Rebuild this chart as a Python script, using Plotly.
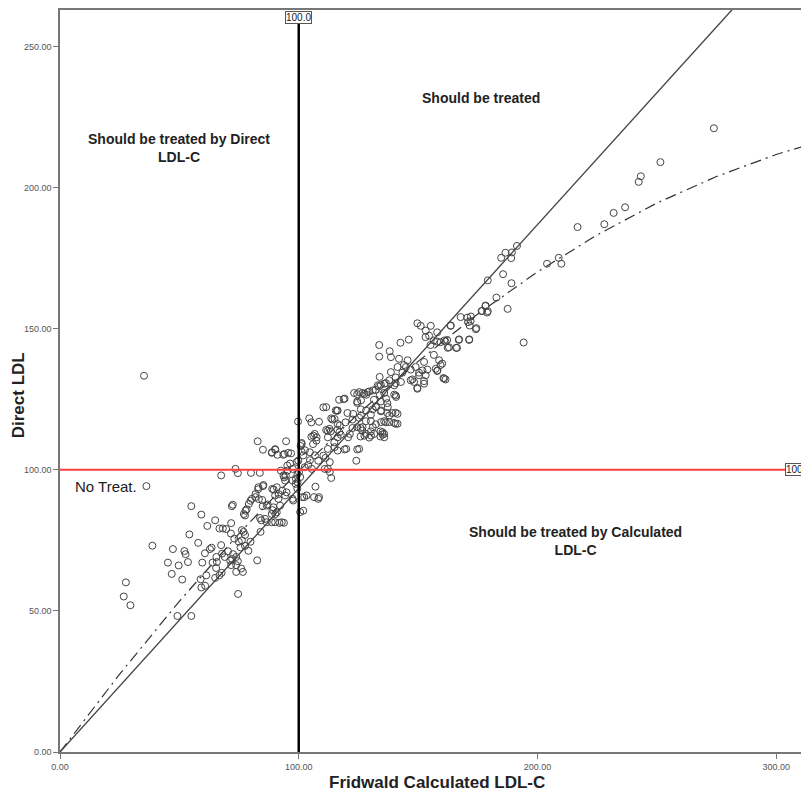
import plotly.graph_objects as go

# scatter data: (Fridwald calculated LDL-C, direct LDL)
points = [
    (35.2, 133.3), (36.2, 94.2), (38.7, 73.1), (27.6, 60.1), (26.7, 55.1), (29.5, 52.0), (49.2, 48.2), (55.0, 48.2),
    (74.6, 56.0), (55.0, 87.1), (59.2, 84.1), (61.7, 80.1), (65.0, 82.1), (54.2, 77.1), (47.3, 71.9), (52.1, 71.2),
    (52.6, 70.1), (45.2, 67.1), (49.7, 66.1), (46.8, 63.1), (51.2, 61.1), (59.6, 67.1), (62.8, 71.9), (63.9, 67.1),
    (58.9, 61.2), (59.2, 58.3), (60.8, 58.9), (65.4, 65.2), (66.8, 62.6), (67.5, 73.3), (67.9, 70.3), (66.8, 79.2),
    (68.2, 79.2), (69.6, 79.0), (71.7, 81.1), (72.0, 87.1), (67.5, 98.0), (73.5, 100.3), (74.5, 98.8), (80.0, 98.9),
    (83.7, 98.9), (82.8, 110.1), (85.0, 107.1), (88.7, 106.0), (90.1, 107.3), (91.1, 105.3), (94.7, 110.1),
    (95.6, 106.0), (93.5, 105.3), (99.7, 117.1), (100.8, 108.4),
    (85.0, 94.2), (83.0, 93.1), (81.9, 91.4), (79.8, 89.0), (83.3, 89.6), (84.7, 89.3), (89.5, 93.0), (91.6, 91.4),
    (94.3, 90.9), (78.2, 86.0), (77.5, 83.8), (84.3, 82.1), (89.0, 85.7), (90.2, 84.3), (91.9, 81.2), (93.8, 81.2),
    (91.5, 89.7), (84.9, 87.1), (87.0, 87.7), (76.9, 78.0), (76.2, 78.6), (76.2, 75.0), (77.5, 76.9), (74.9, 74.5),
    (73.0, 75.6), (71.6, 77.4), (75.6, 72.5), (77.5, 73.0), (78.9, 71.3), (79.8, 74.5), (84.0, 78.0), (72.5, 70.1),
    (71.3, 67.8), (65.7, 67.3), (67.7, 63.5), (72.1, 68.4), (65.0, 61.7),
    (97.5, 100.3), (99.5, 98.5), (98.8, 96.8), (99.5, 95.6), (100.6, 97.4), (102.3, 90.3), (100.6, 85.0),
    (95.2, 101.5), (94.6, 97.9), (92.5, 99.7),
    (57.9, 74.1), (60.7, 70.4), (63.5, 72.4), (65.5, 69.1), (69.0, 69.1), (70.4, 71.1), (73.8, 69.1), (74.5, 67.6),
    (73.8, 66.2), (71.7, 66.2), (75.9, 65.0), (73.8, 63.8), (76.6, 63.8), (82.6, 67.9), (61.3, 62.6), (53.6, 67.3),
    (79.1, 87.9), (77.7, 85.5), (72.4, 87.6), (77.0, 84.3), (86.6, 87.3), (89.4, 86.7), (92.2, 87.3), (83.8, 82.9),
    (85.9, 82.6), (88.7, 84.3), (90.8, 84.9), (90.1, 81.4), (92.9, 81.4), (88.7, 81.4), (86.6, 81.4), (80.4, 89.7),
    (81.8, 90.3), (83.1, 93.8), (85.2, 94.6), (90.8, 93.8), (90.1, 90.9), (94.9, 92.0), (97.7, 89.1), (101.9, 85.5),
    (103.3, 90.9), (108.2, 89.7), (93.6, 98.0), (94.3, 96.2), (96.4, 102.2), (99.2, 102.8), (101.9, 105.1),
    (101.2, 109.5), (102.6, 106.9), (104.7, 103.4), (104.0, 101.7), (106.8, 105.1), (106.1, 112.1), (107.5, 111.5),
    (88.8, 106.2), (90.2, 107.1), (94.0, 105.6), (96.8, 105.8),
    (104.4, 118.2), (105.3, 116.8), (108.5, 117.0), (110.3, 122.1), (113.6, 118.2), (116.0, 120.9), (118.8, 125.0),
    (124.5, 126.8), (124.5, 123.7), (128.3, 126.6), (132.2, 128.3), (133.6, 129.5), (140.6, 126.3), (140.6, 120.2),
    (140.6, 116.3), (136.5, 116.8), (135.1, 113.3), (135.1, 112.5), (131.6, 112.7), (128.1, 112.7), (126.7, 115.1),
    (126.0, 121.4), (131.0, 121.4), (119.6, 116.8), (116.3, 116.2), (117.0, 113.3), (111.5, 114.1), (112.2, 113.8),
    (106.7, 112.7), (105.3, 111.7), (107.4, 110.3), (106.0, 109.1), (101.2, 109.1), (101.2, 106.4), (99.8, 103.2),
    (104.7, 106.2), (108.2, 103.2), (110.3, 105.0), (111.2, 104.2), (113.0, 102.7), (112.2, 100.3), (110.9, 100.3),
    (113.0, 99.2), (113.6, 97.1), (119.2, 107.2), (116.3, 106.8), (124.5, 107.2), (124.1, 103.2), (114.9, 109.7),
    (105.5, 100.3), (102.5, 100.9), (100.1, 99.2), (95.3, 99.7), (93.9, 97.3), (97.3, 96.2), (98.7, 95.0),
    (99.4, 93.3), (101.5, 90.3), (106.4, 90.3), (108.5, 90.3), (107.0, 94.0), (97.4, 89.7), (93.1, 92.6), (88.9, 93.2),
    (133.7, 144.2), (133.7, 140.1), (138.1, 142.0), (142.6, 145.0), (146.1, 146.1), (149.7, 151.9), (151.1, 151.0),
    (155.3, 151.0), (153.2, 149.3), (154.6, 147.5), (158.0, 148.7), (156.6, 145.8), (159.4, 145.2), (162.2, 146.0),
    (163.6, 151.0), (167.0, 146.0), (170.6, 153.9), (172.0, 152.7), (174.2, 149.8), (171.4, 146.0), (166.3, 143.2),
    (162.9, 143.4), (178.2, 158.0), (178.9, 155.7), (176.8, 156.3), (138.6, 139.9), (142.0, 139.3), (145.6, 138.8),
    (144.9, 136.4), (149.0, 136.4), (152.5, 138.2), (158.8, 138.8), (160.1, 137.6), (157.4, 135.8), (158.1, 135.2),
    (160.9, 132.3), (151.8, 135.2), (153.2, 133.5), (150.4, 133.5), (146.9, 131.7), (148.3, 131.1), (149.7, 128.7),
    (152.5, 130.5), (138.6, 134.6), (141.4, 136.4), (137.9, 131.7), (140.0, 129.9), (142.8, 131.1), (133.9, 132.9),
    (135.9, 130.5), (133.1, 129.9), (131.0, 128.1), (128.9, 127.5), (127.5, 126.9), (133.9, 126.4), (136.6, 125.2),
    (140.8, 125.8), (125.3, 127.5), (126.1, 124.6), (119.2, 125.2), (111.5, 122.2), (116.3, 121.0), (115.0, 118.0),
    (112.9, 114.5), (112.2, 111.5), (117.2, 115.7), (122.8, 119.8), (126.1, 119.2), (128.2, 121.0), (132.4, 122.2),
    (134.5, 121.0), (137.3, 122.2), (141.4, 119.8), (137.9, 119.2), (141.4, 116.3), (137.9, 116.9), (134.5, 116.9),
    (131.0, 115.1), (127.5, 112.1), (130.3, 112.1), (135.8, 112.7), (135.8, 111.5), (124.5, 115.1), (121.4, 112.7),
    (120.7, 111.5), (116.3, 111.5), (115.0, 108.0), (112.2, 107.4), (119.9, 107.4), (125.3, 107.4), (126.6, 113.9),
    (140.6, 132.7), (144.1, 137.1), (143.4, 134.4), (146.9, 135.5), (147.6, 132.0), (150.4, 134.4), (152.5, 131.4),
    (149.7, 129.0), (153.9, 135.5), (158.0, 135.0), (161.5, 132.0), (159.4, 137.1), (156.6, 140.7), (155.2, 144.2),
    (158.0, 145.4), (161.5, 145.4), (153.1, 147.0), (134.4, 130.1), (136.5, 130.7), (140.6, 130.7), (140.0, 126.6),
    (135.8, 127.2), (129.5, 127.7), (126.7, 127.2), (123.2, 127.2), (116.9, 124.8), (124.5, 124.2), (131.5, 124.8),
    (134.4, 124.2), (132.3, 122.4), (137.1, 123.6), (137.1, 120.1), (139.2, 120.1), (134.4, 120.7), (130.2, 119.5),
    (115.5, 121.0), (114.1, 117.8), (120.4, 120.1), (122.5, 117.8), (125.3, 118.4), (128.1, 117.2), (130.2, 117.2),
    (132.3, 116.1), (135.8, 117.2), (139.9, 116.6), (134.2, 113.6), (130.2, 113.6), (125.9, 114.8), (122.5, 114.8),
    (116.2, 114.2), (117.6, 112.4), (113.4, 113.6), (125.9, 111.8), (129.5, 111.4), (134.2, 111.8),
    (191.4, 179.3), (186.6, 176.9), (184.8, 175.1), (185.6, 169.3), (179.2, 167.1), (189.1, 166.1), (182.8, 161.0),
    (187.5, 157.0), (178.3, 158.2), (179.2, 156.2), (176.6, 156.2), (172.1, 154.3), (167.8, 154.1), (170.9, 152.3),
    (171.6, 151.1), (174.4, 150.2), (163.7, 151.1), (167.2, 146.2), (171.4, 146.2), (162.4, 143.2), (165.9, 143.2),
    (161.0, 145.8), (194.2, 145.1), (204.0, 173.0), (208.9, 175.1), (210.0, 173.0), (160.6, 132.5),
    (273.9, 221.0), (251.5, 209.0), (243.3, 204.0), (242.4, 202.0), (236.7, 193.0), (231.9, 191.0), (228.0, 187.0),
    (216.8, 186.0), (189.3, 177.0), (189.0, 175.0),
]
calc_ldl = [p[0] for p in points]
direct_ldl = [p[1] for p in points]

# fitted lines
fit_x = [0, 25, 50, 75, 100, 125, 150, 175, 200, 225, 250, 275, 300, 313]
fit_y = [0, 27.6, 53.4, 77.4, 99.5, 119.9, 138.4, 155.2, 170.1, 183.2, 194.5, 203.9, 211.7, 215.0]
lin_x = [0, 281.5]
lin_y = [0, 263.0]

cutoff = 100

fig = go.Figure()
fig.add_trace(go.Scatter(x=fit_x, y=fit_y, mode='lines',
                         line=dict(color='#333333', width=1.2, dash='11px,5px,2px,5px')))
fig.add_trace(go.Scatter(x=lin_x, y=lin_y, mode='lines', line=dict(color='#444444', width=1.3)))
fig.add_trace(go.Scatter(x=calc_ldl, y=direct_ldl, mode='markers',
                         marker=dict(symbol='circle-open', size=7, color='#444444', line=dict(width=1))))

# cut-off reference lines
fig.add_shape(type='line', x0=cutoff, x1=cutoff, y0=0, y1=259, line=dict(color='black', width=2.5))
fig.add_shape(type='line', x0=0, x1=304, y0=cutoff, y1=cutoff, line=dict(color='#ff4040', width=2))

box_font = dict(family='Liberation Sans, Arial', size=10, color='#222222')
fig.add_annotation(x=cutoff, y=260.4, text='100.0', showarrow=False, font=box_font,
                   bgcolor='white', bordercolor='#555555', borderwidth=1, borderpad=0)
fig.add_annotation(x=303.7, y=cutoff, text='100.', showarrow=False, xanchor='left', font=box_font,
                   bgcolor='white', bordercolor='#555555', borderwidth=1, borderpad=0)

label_font = dict(family='Liberation Sans, Arial', size=14, color='#222222')
fig.add_annotation(x=49.9, y=214, text='<b>Should be treated by Direct<br>LDL-C</b>', showarrow=False, font=label_font)
fig.add_annotation(x=176.2, y=231.7, text='<b>Should be treated</b>', showarrow=False, font=label_font)
fig.add_annotation(x=5.4, y=94.2, text='No Treat.', showarrow=False, xanchor='left',
                   font=dict(family='Liberation Sans, Arial', size=15, color='#222222'))
fig.add_annotation(x=216, y=74.7, text='<b>Should be treated by Calculated<br>LDL-C</b>', showarrow=False, font=label_font)

# axis titles
title_font = dict(family='Liberation Sans, Arial', size=17, color='#222222')
fig.add_annotation(xref='paper', yref='paper', x=0.505, y=-0.0417, yanchor='middle',
                   text='<b>Fridwald Calculated LDL-C</b>', showarrow=False, font=title_font)
fig.add_annotation(xref='paper', yref='paper', x=-0.056, y=0.481, xanchor='center', textangle=-90,
                   text='<b>Direct LDL</b>', showarrow=False, font=title_font)

tick_font = dict(family='Liberation Sans, Arial', size=9, color='#555555')
fig.update_xaxes(range=[0, 312.9], tickvals=[0, 100, 200, 300], tickformat='.2f', tickfont=tick_font,
                 showgrid=False, zeroline=False, showline=True, linecolor='#777777', linewidth=1.5,
                 mirror=True, ticks='outside', ticklen=5, tickcolor='#777777')
fig.update_yaxes(range=[0, 262.9], tickvals=[0, 50, 100, 150, 200, 250], tickformat='.2f', tickfont=tick_font,
                 showgrid=False, zeroline=False, showline=True, linecolor='#777777', linewidth=1.5,
                 mirror=True, ticks='outside', ticklen=5, tickcolor='#777777')
# the page body adds an 8px offset, so the figure is 8px smaller than the window
fig.update_layout(width=801, height=788, margin=dict(l=52, r=0, t=1, b=44),
                  plot_bgcolor='white', paper_bgcolor='white', showlegend=False)

fig.write_html("out.html")
